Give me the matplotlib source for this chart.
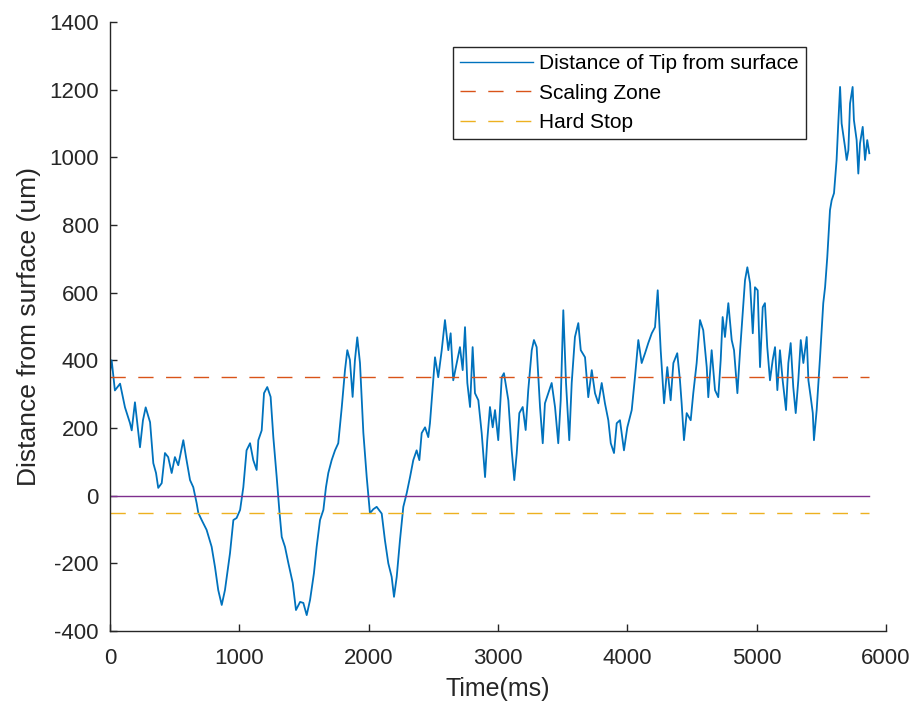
#!/usr/bin/env python3
import numpy as np
import matplotlib
matplotlib.use("Agg")
import matplotlib.pyplot as plt

# values
time_ms = [
    0, 13, 38, 78, 116, 155, 168, 193, 232, 255, 276, 310, 335, 356, 373, 400,
    425, 450, 477, 502, 528, 567, 588, 619, 644, 670, 683, 709, 747, 786, 812,
    837, 864, 889, 928, 954, 979, 1006, 1031, 1056, 1083, 1108, 1134, 1147,
    1173, 1191, 1216, 1242, 1263, 1289, 1309, 1328, 1353, 1379, 1413, 1438,
    1470, 1495, 1521, 1547, 1577, 1598, 1624, 1650, 1670, 1688, 1714, 1740,
    1765, 1792, 1817, 1835, 1855, 1876, 1894, 1912, 1933, 1959, 1985, 2010,
    2036, 2062, 2101, 2126, 2152, 2178, 2196, 2217, 2242, 2268, 2294, 2320,
    2345, 2371, 2392, 2410, 2436, 2461, 2474, 2495, 2513, 2538, 2565, 2590,
    2616, 2634, 2654, 2681, 2706, 2727, 2745, 2763, 2784, 2804, 2822, 2848,
    2874, 2900, 2917, 2938, 2959, 2977, 3002, 3029, 3046, 3080, 3106, 3126,
    3145, 3165, 3191, 3214, 3234, 3261, 3278, 3299, 3312, 3325, 3346, 3363,
    3389, 3415, 3441, 3466, 3485, 3505, 3526, 3551, 3570, 3595, 3621, 3640,
    3673, 3698, 3725, 3750, 3776, 3802, 3827, 3853, 3872, 3897, 3918, 3943,
    3974, 4000, 4034, 4059, 4085, 4111, 4137, 4162, 4189, 4214, 4235, 4258,
    4284, 4309, 4335, 4356, 4386, 4407, 4420, 4438, 4459, 4490, 4510, 4536,
    4562, 4587, 4614, 4626, 4652, 4678, 4703, 4722, 4737, 4755, 4781, 4807,
    4825, 4851, 4872, 4910, 4928, 4949, 4970, 4987, 5008, 5026, 5047, 5064,
    5082, 5103, 5124, 5142, 5160, 5180, 5201, 5227, 5245, 5263, 5283, 5302,
    5322, 5341, 5361, 5387, 5400, 5418, 5434, 5443, 5464, 5490, 5515, 5529,
    5546, 5567, 5580, 5598, 5618, 5631, 5645, 5657, 5683, 5696, 5709, 5722,
    5742, 5752, 5773, 5786, 5799, 5820, 5838, 5855, 5871,
]
distance_um = [
    365, 400, 311, 331, 261, 214, 193, 276, 143, 223, 261, 217, 96, 67, 23, 37,
    126, 114, 67, 114, 90, 164, 114, 46, 25, -22, -51, -72, -101, -151, -211,
    -279, -323, -279, -170, -72, -66, -42, 25, 134, 155, 105, 76, 164,
    193, 303, 321, 292, 173, 55, -42, -122, -151, -199, -258, -338,
    -314, -317, -353, -308, -229, -151, -72, -42, 25, 67, 105, 134,
    155, 261, 371, 430, 401, 292, 401, 468, 392, 186, 55, -52,
    -40, -33, -53, -132, -200, -240, -299, -240, -132, -33, 7, 55,
    105, 134, 105, 185, 202, 173, 214, 321, 409, 350, 430, 519,
    430, 480, 341, 392, 439, 371, 498, 333, 262, 439, 303, 282,
    185, 55, 164, 262, 202, 253, 164, 350, 362, 282, 134, 46,
    126, 244, 262, 194, 312, 430, 460, 439, 350, 262, 155, 273,
    303, 333, 262, 155, 282, 548, 333, 164, 333, 469, 510, 430,
    409, 291, 371, 303, 273, 333, 273, 223, 155, 126, 214, 223,
    134, 202, 253, 350, 460, 392, 421, 451, 480, 498, 607, 430,
    273, 380, 282, 392, 421, 341, 273, 164, 244, 223, 303, 392,
    519, 489, 380, 291, 430, 312, 291, 401, 528, 469, 569, 460,
    430, 303, 430, 637, 675, 628, 480, 616, 607, 380, 557, 569,
    439, 341, 401, 439, 312, 430, 341, 253, 392, 451, 321, 244,
    341, 460, 392, 469, 341, 291, 244, 164, 253, 409, 569, 616,
    705, 844, 873, 894, 992, 1100, 1208, 1100, 1031, 992, 1021, 1159,
    1208, 1110, 1051, 952, 1041, 1090, 992, 1051, 1012,
]
scaling_zone = 350
hard_stop = -50
surface = 0

labels = ["Distance of Tip from surface", "Scaling Zone", "Hard Stop"]

BLUE = "#0072BD"
ORANGE = "#D95319"
YELLOW = "#EDB120"
PURPLE = "#7E2F8E"
AXCOL = "#262626"

plt.rcParams["font.family"] = ["Liberation Sans", "DejaVu Sans"]
plt.rcParams["axes.unicode_minus"] = False

fig = plt.figure(figsize=(9.15, 7.11), dpi=100)
ax = fig.add_axes([0.1202, 0.1125, 0.8481, 0.8566])

t = np.array(time_ms)
d = np.array(distance_um)
t_end = t[-1]

ax.plot(t, d, color=BLUE, lw=1.3, label=labels[0])
ax.plot([0, t_end], [scaling_zone, scaling_zone], color=ORANGE, lw=1.0,
        linestyle=(0, (11, 9)), label=labels[1])
ax.plot([0, t_end], [hard_stop, hard_stop], color=YELLOW, lw=1.0,
        linestyle=(0, (11, 9)), label=labels[2])
ax.plot([0, t_end], [surface, surface], color=PURPLE, lw=1.0)

ax.set_xlim(0, 6000)
ax.set_ylim(-400, 1400)
ax.set_xticks(np.arange(0, 6001, 1000))
ax.set_yticks(np.arange(-400, 1401, 200))

for side in ("top", "right"):
    ax.spines[side].set_visible(False)
for side in ("left", "bottom"):
    ax.spines[side].set_color(AXCOL)
    ax.spines[side].set_linewidth(1.0)
ax.tick_params(direction="in", length=5, width=1.0, colors=AXCOL,
               labelsize=16)
ax.tick_params(axis="x", pad=12)
ax.tick_params(axis="y", pad=8)

ax.set_xlabel("Time(ms)", fontsize=18, color=AXCOL, labelpad=6)
ax.set_ylabel("Distance from surface (um)", fontsize=19, color=AXCOL, labelpad=6)

for line in ax.get_legend_handles_labels()[0]:
    line.set_linewidth(1.0)
leg = ax.legend(loc="upper left", bbox_to_anchor=(0.442, 0.959),
                borderaxespad=0, fontsize=15, fancybox=False, framealpha=1,
                edgecolor=AXCOL, handlelength=3.5, handletextpad=0.3,
                labelspacing=0.5, borderpad=0.35)
leg.get_frame().set_linewidth(1.0)
ax.get_lines()[0].set_linewidth(1.3)

fig.savefig("out.png", dpi=100)
